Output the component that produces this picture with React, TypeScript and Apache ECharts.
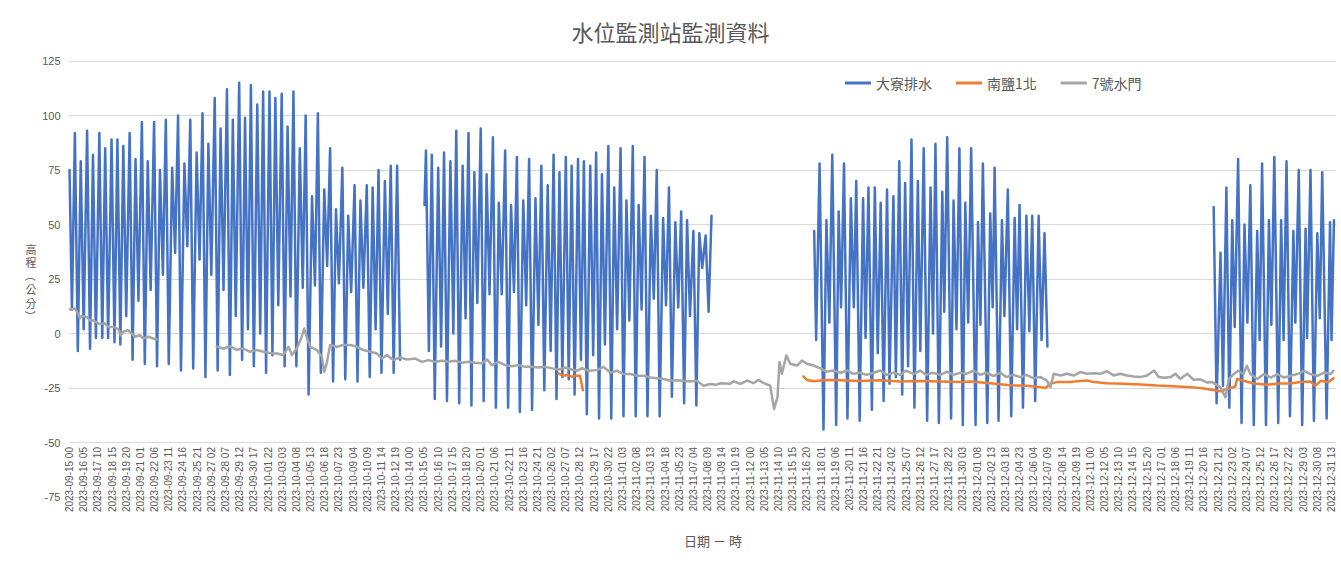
import React, { useEffect, useRef } from "react";
import * as echarts from "echarts";

const TITLE = "水位監測站監測資料";
const SERIES_NAMES = ["大寮排水", "南鹽1北", "7號水門"];
const COLORS = ["#4472C4", "#ED7D31", "#A5A5A5"];
const Y_NAME_CHARS = ["高", "程", "（", "公", "分", "）"];
const X_NAME = "日期 － 時";

// hourly categories, 2023-09-15 00 .. 2023-12-31 23
const START_UTC = Date.UTC(2023, 8, 15, 0);
const HOUR_COUNT = 2592;
const pad = (n: number) => String(n).padStart(2, "0");
const hourLabels: string[] = [];
for (let i = 0; i < HOUR_COUNT; i++) {
  const d = new Date(START_UTC + i * 3600000);
  hourLabels.push(
    `${d.getUTCFullYear()}-${pad(d.getUTCMonth() + 1)}-${pad(d.getUTCDate())} ${pad(d.getUTCHours())}`
  );
}

// 大寮排水 — [hour index, cm] (tidal highs / lows)
const daliaoBlock1 = [
  [0, 75], [5, 11], [11, 92], [17, -8], [23, 79], [29, 2], [36, 93], [42, -7], [48, 82], [54, -2],
  [61, 92], [67, -2], [73, 85], [79, -2], [86, 89], [92, -4], [98, 89], [104, -5], [110, 86], [116, 8],
  [123, 92], [129, -12], [135, 80], [141, 15], [148, 97], [154, -14], [160, 79], [166, 20], [173, 97], [179, -15],
  [185, 75], [191, 27], [197, 98], [203, -14], [210, 76], [216, 37], [222, 100], [228, -17], [235, 78], [241, 40],
  [247, 98], [253, -16], [260, 83], [266, 34], [272, 101], [278, -20], [284, 87], [290, 27], [297, 108], [303, -17],
  [309, 94], [315, 20], [322, 112], [328, -19], [334, 98], [340, 8], [347, 115], [353, -12], [359, 99], [365, 2],
  [371, 114], [377, -15], [384, 105], [390, 0], [396, 111], [402, -18], [409, 111], [415, -10], [421, 108], [427, 13],
  [434, 110], [440, -15], [446, 95], [452, 17], [458, 111], [464, -15], [471, 85], [477, 21], [483, 100], [489, -28],
  [496, 63], [502, 22], [508, 101], [514, -18], [521, 66], [527, 31], [533, 85], [539, -22], [545, 57], [551, 23],
  [558, 76], [564, -21], [570, 54], [576, 19], [583, 68], [589, -22], [595, 61], [601, 21], [608, 68], [614, -20],
  [620, 67], [626, 2], [632, 75], [638, -18], [645, 70], [651, 9], [657, 77], [663, -18], [670, 77], [676, -12],
];
const daliaoBlock2 = [
  [726, 59], [729, 84], [735, -8], [741, 82], [747, -30], [754, 76], [760, -6], [766, 83], [772, -31],
  [779, 79], [785, 0], [791, 93], [797, -32], [804, 77], [810, 7], [816, 92], [822, -33], [828, 74], [834, 14],
  [841, 94], [847, -31], [853, 73], [859, 18], [866, 90], [872, -34], [878, 60], [884, 18], [891, 84], [897, -34],
  [903, 59], [909, 19], [915, 81], [921, -36], [928, 61], [934, 13], [940, 80], [946, -35], [953, 62], [959, 4],
  [965, 77], [971, -26], [978, 68], [984, -8], [990, 82], [996, -30], [1002, 74], [1008, -20], [1015, 81], [1021, -21],
  [1027, 77], [1033, -28], [1040, 80], [1046, -12], [1052, 79], [1058, -37], [1065, 77], [1071, -10], [1077, 83], [1083, -39],
  [1089, 73], [1095, -5], [1102, 86], [1108, -39], [1114, 67], [1120, 2], [1127, 85], [1133, -38], [1139, 61], [1145, 6],
  [1152, 86], [1158, -38], [1164, 59], [1170, 11], [1176, 81], [1182, -38], [1189, 54], [1195, 16], [1201, 75], [1207, -38],
  [1214, 53], [1220, 13], [1226, 67], [1232, -29], [1239, 51], [1245, 12], [1251, 56], [1257, -32], [1263, 52], [1269, 8],
  [1276, 47], [1282, -33], [1288, 46], [1294, 30], [1301, 45], [1307, 10], [1313, 54],
];
const daliaoBlock3 = [
  [1523, 47], [1527, -3], [1534, 78], [1542, -44], [1548, 52], [1554, 5], [1560, 82], [1568, -42], [1573, 56], [1578, 12],
  [1584, 78], [1591, -39], [1598, 62], [1604, 12], [1609, 70], [1616, -40], [1623, 62], [1628, -2], [1634, 67], [1641, -35],
  [1647, 67], [1653, -9], [1659, 60], [1665, -31], [1672, 66], [1677, -23], [1685, 63], [1690, -20], [1697, 79], [1703, -28],
  [1709, 69], [1715, -15], [1722, 89], [1728, -34], [1735, 70], [1740, -8], [1747, 85], [1754, -40], [1761, 67], [1766, 0],
  [1771, 87], [1778, -41], [1785, 65], [1789, 10], [1795, 90], [1803, -39], [1808, 61], [1814, 2], [1820, 85], [1827, -42],
  [1832, 60], [1838, 5], [1844, 85], [1853, -42], [1858, 51], [1863, 4], [1868, 78], [1877, -41], [1883, 55], [1888, 12],
  [1892, 76], [1900, -40], [1907, 52], [1912, 8], [1919, 66], [1926, -38], [1933, 53], [1938, 2], [1943, 59], [1950, -34],
  [1957, 54], [1963, 1], [1969, 54], [1975, -31], [1982, 54], [1988, -3], [1994, 46], [2000, -6],
];
const daliaoBlock4 = [
  [2340, 58], [2346, -32], [2354, 37], [2359, -24], [2366, 67], [2372, -34], [2378, 52], [2383, 3], [2390, 80], [2397, -41],
  [2403, 50], [2409, 5], [2415, 68], [2422, -42], [2429, 47], [2434, -3], [2439, 78], [2447, -42], [2453, 52], [2458, 4],
  [2464, 81], [2472, -41], [2478, 52], [2483, -3], [2489, 79], [2496, -38], [2503, 47], [2507, 5], [2514, 75], [2521, -42],
  [2528, 48], [2531, -2], [2538, 75], [2545, -40], [2552, 46], [2557, 7], [2562, 74], [2571, -39], [2578, 51], [2581, -3],
  [2586, 52],
];

// 南鹽1北
const nanyanBlock1 = [
  [1000, -18.3], [1010, -19.5], [1017, -19], [1027, -19.8], [1034, -19.4], [1044, -19.4], [1050, -26],
];
const nanyanBlock2 = [
  [1501, -19.7], [1508, -21.3], [1522, -21.9], [1536, -21.6], [1553, -21.3], [1577, -21.5], [1617, -21.8],
  [1658, -21.5], [1699, -22], [1740, -21.8], [1781, -22], [1822, -22.2], [1842, -22], [1883, -22.8], [1924, -23.7],
  [1955, -24], [1986, -24.6], [1996, -25], [2006, -23], [2020, -22.3], [2046, -22.3], [2067, -21.8], [2081, -21.6],
  [2095, -22.3], [2122, -22.8], [2156, -23.1], [2190, -23.4], [2224, -23.9], [2258, -24.2], [2293, -24.6], [2320, -25.2],
  [2354, -26.5], [2374, -25], [2384, -24.4], [2388, -20.9], [2401, -21.7], [2422, -22.9], [2449, -23.5], [2476, -22.9],
  [2496, -22.9], [2518, -22.3], [2538, -22], [2548, -24], [2559, -21.7], [2574, -22.4], [2585, -20.5],
];

// 7號水門
const gateBlock1 = [
  [1, 11], [11, 11.5], [18, 9], [21, 7], [25, 8], [35, 7.6], [42, 6], [49, 6], [56, 5], [62, 4.3], [73, 4.6], [79, 3],
  [90, 3], [100, 2], [105, -0.8], [110, 0.8], [120, 1.5], [127, 0], [134, -1.5], [144, -0.8], [151, -2.3], [161, -1.5],
  [171, -2.3], [178, -2.7],
];
const gateBlock2 = [
  [301, -6], [315, -7], [328, -5.8], [342, -7.5], [356, -6.9], [369, -8.4], [383, -7.6], [397, -8.4], [410, -8.9],
  [424, -9.2], [437, -9.9], [448, -6.1], [455, -9.9], [465, -6.9], [475, -1.5], [480, 2.3], [485, -1.5], [492, -6.1],
  [506, -7.6], [516, -10.7], [521, -17.6], [526, -13.7], [533, -5.3], [547, -6.1], [560, -5.3], [574, -5.3], [588, -6.1],
  [601, -7.6], [615, -8.4], [629, -9.2], [639, -11.5], [649, -9.9], [662, -12.2], [676, -11], [690, -11.9], [707, -11.5],
  [721, -13], [734, -12.2], [748, -13], [762, -12.5], [775, -13], [789, -12.5], [802, -13.4], [816, -13], [830, -13.4],
  [843, -13.7], [854, -11.9], [864, -14.5], [877, -13], [891, -14.5], [905, -15], [918, -14.5], [932, -15.3], [946, -15.3],
  [959, -15.6], [973, -15.3], [987, -16], [1000, -16.5], [1014, -15.6], [1027, -16.5], [1038, -17.1], [1048, -15.9],
  [1061, -17.1], [1079, -16.8], [1092, -15.3], [1106, -17.9], [1120, -17.1], [1133, -18.6], [1147, -18.6], [1160, -19.4],
  [1174, -19.4], [1188, -20.2], [1201, -20.5], [1215, -20.9], [1229, -21.7], [1242, -21.4], [1256, -21.7], [1270, -22],
  [1283, -21.7], [1297, -24], [1310, -23.2], [1324, -23.5], [1331, -22.8], [1351, -23.1], [1358, -21.9], [1372, -23.1],
  [1386, -21.6], [1399, -22.8], [1409, -21.3], [1420, -22.8], [1433, -23.9], [1441, -34.6], [1448, -29.2], [1452, -13.1],
  [1457, -18.5], [1466, -10.1], [1474, -13.9], [1488, -14.7], [1498, -12.4], [1508, -13.9], [1522, -14.7], [1536, -16],
  [1548, -17.5], [1562, -17], [1577, -18], [1591, -17], [1603, -18.5], [1617, -18], [1630, -19], [1644, -18], [1658, -17],
  [1672, -19], [1685, -18], [1699, -19], [1711, -17], [1726, -18.5], [1740, -17], [1752, -19], [1766, -18], [1781, -19],
  [1795, -17.5], [1808, -19], [1822, -18], [1834, -18.5], [1849, -17], [1863, -19], [1875, -18], [1890, -19.5], [1904, -18],
  [1916, -20], [1930, -19], [1945, -20], [1957, -19], [1971, -20.5], [1986, -20], [1999, -21.6], [2006, -24.6], [2013, -18.5],
  [2027, -19.3], [2040, -18.5], [2054, -19.3], [2067, -17.7], [2081, -18.5], [2095, -18.2], [2108, -18.5], [2122, -17.3],
  [2136, -19.3], [2149, -18.5], [2163, -19.3], [2177, -19.7], [2190, -20], [2204, -19.3], [2218, -17], [2228, -20],
  [2238, -20.3], [2252, -20], [2262, -18.5], [2272, -20.8], [2286, -18.5], [2299, -21.2], [2313, -21], [2327, -22.5],
  [2337, -22.3], [2354, -24.7], [2364, -29.3], [2371, -20.9], [2381, -18.6], [2390, -17.1], [2401, -18.6], [2408, -14.8],
  [2415, -18.6], [2429, -20.9], [2443, -18.6], [2457, -20.2], [2470, -18.6], [2484, -20.2], [2498, -19.4], [2511, -18.6],
  [2525, -17.1], [2538, -18.6], [2552, -19.4], [2566, -17.9], [2579, -18.6], [2585, -17.1],
];

const GAP = "-";
const joinBlocks = (blocks: number[][][]) => {
  const out: any[] = [];
  blocks.forEach((b, i) => {
    if (i > 0) out.push([Math.round((blocks[i - 1][blocks[i - 1].length - 1][0] + b[0][0]) / 2), GAP]);
    b.forEach((p) => out.push(p));
  });
  return out;
};

const FONT_CJK = "'Noto Sans CJK TC', 'Noto Sans CJK SC', sans-serif";
const FONT_NUM = "'Liberation Sans', 'Noto Sans', sans-serif";
const TEXT_COLOR = "#595959";

export default function App() {
  const ref = useRef<HTMLDivElement>(null);
  useEffect(() => {
    if (!ref.current) return;
    const chart = echarts.init(ref.current, undefined, { renderer: "svg" });
    const lineSeries = (name: string, color: string, data: any[], z: number) => ({
      name,
      type: "line",
      data,
      showSymbol: false,
      symbol: "none",
      connectNulls: false,
      z,
      lineStyle: { color, width: 2.5, join: "round", cap: "round" },
      itemStyle: { color },
      emphasis: { disabled: true },
    });
    const yNameGraphics = Y_NAME_CHARS.map((ch, i) => ({
      type: "text",
      x: 31,
      y: 249 + i * 13.4,
      rotation: ch === "（" || ch === "）" ? -Math.PI / 2 : 0,
      style: {
        text: ch,
        fontSize: 11,
        lineHeight: 11,
        fontFamily: FONT_CJK,
        fill: TEXT_COLOR,
        align: "center",
        verticalAlign: "middle",
      },
    }));
    chart.setOption({
      animation: false,
      backgroundColor: "#ffffff",
      title: {
        text: TITLE,
        left: "center",
        top: 15,
        textStyle: { fontSize: 22, fontWeight: "normal", color: TEXT_COLOR, fontFamily: FONT_CJK },
      },
      legend: {
        left: 840,
        top: 71,
        icon: "rect",
        itemWidth: 26,
        itemHeight: 3,
        itemGap: 24,
        textStyle: { fontSize: 14, color: TEXT_COLOR, fontFamily: FONT_CJK },
        data: SERIES_NAMES,
      },
      grid: { left: 69.5, right: 4.6, top: 61, bottom: 69, containLabel: false, outerBoundsMode: "none" },
      xAxis: {
        type: "category",
        data: hourLabels,
        boundaryGap: false,
        axisLine: { show: false },
        axisTick: { show: false },
        splitLine: { show: false },
        axisLabel: {
          interval: 28,
          rotate: 90,
          margin: -50,
          fontSize: 10,
          color: TEXT_COLOR,
          fontFamily: FONT_NUM,
        },
      },
      yAxis: {
        type: "value",
        min: -75,
        max: 125,
        interval: 25,
        axisLine: { show: false },
        axisTick: { show: false },
        splitLine: { lineStyle: { color: "#d9d9d9", width: 1 } },
        axisLabel: { margin: 9, fontSize: 11, color: TEXT_COLOR, fontFamily: FONT_NUM },
      },
      graphic: [
        ...yNameGraphics,
        {
          type: "text",
          x: 713,
          y: 540,
          style: {
            text: X_NAME,
            fontSize: 13,
            fontFamily: FONT_CJK,
            fill: TEXT_COLOR,
            align: "center",
            verticalAlign: "middle",
          },
        },
      ],
      series: [
        lineSeries(SERIES_NAMES[0], COLORS[0], joinBlocks([daliaoBlock1, daliaoBlock2, daliaoBlock3, daliaoBlock4]), 2),
        lineSeries(SERIES_NAMES[1], COLORS[1], joinBlocks([nanyanBlock1, nanyanBlock2]), 3),
        lineSeries(SERIES_NAMES[2], COLORS[2], joinBlocks([gateBlock1, gateBlock2]), 4),
      ],
    });
    return () => chart.dispose();
  }, []);
  return (
    <div
      ref={ref}
      style={{ position: "fixed", left: 0, top: 0, width: 1341, height: 566, background: "#fff" }}
    />
  );
}
